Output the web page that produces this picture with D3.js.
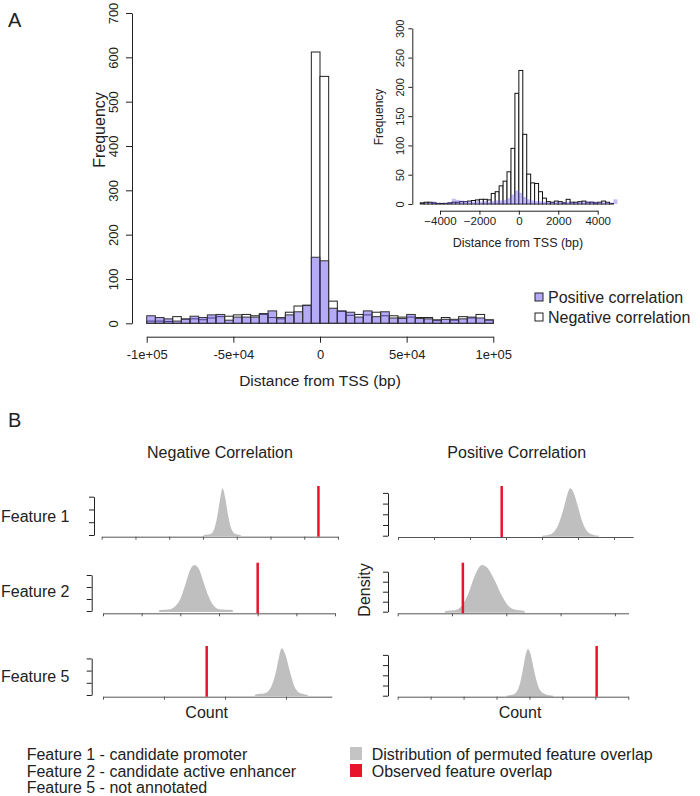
<!DOCTYPE html>
<html>
<head>
<meta charset="utf-8">
<script src="https://cdn.jsdelivr.net/npm/d3@7"></script>
<style>
body { margin: 0; background: #fff; }
svg { display: block; font-family: "Liberation Sans", Arial, Helvetica, sans-serif; }
</style>
</head>
<body>
<svg id="fig" width="700" height="796"></svg>
<script>
// ---- panel A, main histogram (bins of 5000 bp from -1e5) ----
var mainStart = -100000, mainWidth = 5000;
var mainNeg = [5,5,4,15,9,10,8,12,15,16,19,20,17,20,13,10,25,39,41,612,557,50,27,18,20,19,25,17,17,14,14,13,13,6,13,7,15,12,20,7];
var mainPos = [17,13,10,5,10,16,13,19,20,7,14,14,14,22,28,13,19,26,40,149,141,34,28,25,14,28,15,26,12,11,20,11,10,8,9,9,10,14,12,8];
var mainYTicks = [0,100,200,300,400,500,600,700];
var mainXTicks = [-100000,-50000,0,50000,100000];
var mainXLabels = ["-1e+05","-5e+04","0","5e+04","1e+05"];

// ---- panel A, inset (bins of 200 bp from -5000) ----
var insetStart = -5000, insetWidth = 200;
var insetNeg = [2,3,3,2,1,1,1,2,3,3,4,4,5,6,7,8,8,7,18,21,31,39,55,95,189,228,119,51,36,35,21,10,4,3,5,4,2,8,3,3,4,5,3,3,2,3,5,3,1,0];
var insetPos = [0,1,2,4,2,1,2,3,9,7,6,5,5,4,5,4,5,4,5,6,6,7,10,16,23,19,12,8,6,5,5,4,3,3,4,3,3,4,3,3,4,4,4,5,4,3,3,3,2,8];
var insetYTicks = [0,50,100,150,200,250,300];
var insetXTicks = [-4000,-2000,0,2000,4000];

var legendA = ["Positive correlation","Negative correlation"];

// ---- panel B, permutation densities (count in tick units, density in tick units) ----
var colTitles = ["Negative Correlation","Positive Correlation"];
var featureNames = ["Feature 1","Feature 2","Feature 5"];
var densNeg1 = [[3.02,0],[3.15,0.03],[3.25,0.12],[3.33,0.45],[3.42,1.4],[3.5,2.7],[3.58,3.66],[3.66,2.9],[3.74,1.6],[3.82,0.65],[3.9,0.2],[4.0,0.05],[4.12,0]];
var densPos1 = [[4.0,0],[4.15,0.05],[4.3,0.25],[4.45,1.0],[4.58,2.3],[4.7,3.8],[4.78,4.43],[4.88,4.0],[5.0,2.7],[5.12,1.3],[5.25,0.45],[5.4,0.12],[5.58,0]];
var densNeg2 = [[1.45,0],[1.46,0.08],[1.7,0.12],[1.85,0.35],[2.0,1.0],[2.12,2.1],[2.25,3.4],[2.36,3.83],[2.48,3.5],[2.6,2.4],[2.72,1.3],[2.85,0.5],[3.0,0.15],[3.35,0.08],[3.36,0]];
var densPos2 = [[0.87,0],[0.88,0.08],[1.05,0.15],[1.18,0.6],[1.3,1.8],[1.42,3.6],[1.55,4.67],[1.65,4.4],[1.78,3.2],[1.9,1.8],[2.02,0.7],[2.15,0.22],[2.33,0.08],[2.34,0]];
var densNeg5 = [[2.49,0],[2.5,0.05],[2.65,0.15],[2.75,0.6],[2.83,1.8],[2.88,3.0],[2.93,3.83],[2.99,3.3],[3.06,2.0],[3.13,0.8],[3.2,0.25],[3.3,0.07],[3.36,0]];
var densPos5 = [[3.31,0],[3.45,0.06],[3.6,0.35],[3.72,1.3],[3.82,2.9],[3.9,4.2],[3.95,4.58],[4.02,4.2],[4.12,2.8],[4.22,1.4],[4.33,0.5],[4.48,0.15],[4.72,0]];
var observedNeg = [6.42, 4.0, 1.70];
var observedPos = [2.88, 1.2, 6.04];
var featureNotes = ["Feature 1 - candidate promoter","Feature 2 - candidate active enhancer","Feature 5 - not annotated"];
var legendB = ["Distribution of permuted feature overlap","Observed feature overlap"];

var ink = "#222";
var purple = "rgba(105,85,235,0.5)";
var red = "#e8142a";
var svg = d3.select("#fig");

// draw a histogram from counts
function drawBars(g, counts, start, width, x, y, fill, stroke) {
    g.selectAll(null).data(counts).join("rect")
        .attr("x", (d, i) => x(start + i * width))
        .attr("width", (d, i) => x(start + (i + 1) * width) - x(start + i * width))
        .attr("y", d => y(d))
        .attr("height", d => y(0) - y(d))
        .attr("fill", fill)
        .attr("stroke", stroke)
        .attr("stroke-width", stroke == "none" ? 0 : 1);
}

function styleAxis(g) {
    g.selectAll("path, line").attr("stroke", ink);
    g.selectAll("text").attr("fill", ink);
    g.attr("font-family", null);
}

svg.append("text").attr("x", 8).attr("y", 27).attr("font-size", 20).attr("fill", ink).text("A");
svg.append("text").attr("x", 8).attr("y", 427).attr("font-size", 20).attr("fill", ink).text("B");

// main histogram
var xMain = d3.scaleLinear().domain([-100000, 100000]).range([146.7, 493.3]);
var yMain = d3.scaleLinear().domain([0, 700]).range([323.3, 13]);
var gMain = svg.append("g");
drawBars(gMain, mainNeg, mainStart, mainWidth, xMain, yMain, "#fff", "#222");
drawBars(gMain, mainPos, mainStart, mainWidth, xMain, yMain, purple, "#333");

var yAx = svg.append("g").attr("transform", "translate(132,0)")
    .call(d3.axisLeft(yMain).tickValues(mainYTicks).tickSize(6).tickSizeOuter(0));
yAx.selectAll("text").attr("x", 0).attr("dy", 0).attr("font-size", 13)
    .attr("text-anchor", "middle").attr("transform", "translate(-14.3,0) rotate(-90)");
var xAx = svg.append("g").attr("transform", "translate(0,336.7)")
    .call(d3.axisBottom(xMain).tickValues(mainXTicks).tickSize(6).tickSizeOuter(0)
        .tickFormat((d, i) => mainXLabels[i]));
xAx.selectAll("text").attr("y", 22.3).attr("dy", 0).attr("font-size", 13);
styleAxis(yAx); styleAxis(xAx);

svg.append("text").attr("transform", "translate(105,130) rotate(-90)").attr("text-anchor", "middle")
    .attr("font-size", 16).attr("fill", ink).text("Frequency");
svg.append("text").attr("x", 320).attr("y", 386).attr("text-anchor", "middle")
    .attr("font-size", 15.5).attr("fill", ink).text("Distance from TSS (bp)");

// inset histogram
var xIn = d3.scaleLinear().domain([-4000, 4000]).range([440, 597.7]);
var yIn = d3.scaleLinear().domain([0, 300]).range([204, 28.3]);
var gIn = svg.append("g");
drawBars(gIn, insetNeg, insetStart, insetWidth, xIn, yIn, "#fff", "#111");
drawBars(gIn, insetPos, insetStart, insetWidth, xIn, yIn, "rgba(105,85,235,0.38)", "none");

var yAxIn = svg.append("g").attr("transform", "translate(412.3,0)")
    .call(d3.axisLeft(yIn).tickValues(insetYTicks).tickSize(4).tickSizeOuter(0).tickFormat(d3.format("d")));
yAxIn.selectAll("text").attr("x", 0).attr("dy", 0).attr("font-size", 11)
    .attr("text-anchor", "middle").attr("transform", "translate(-8.6,0) rotate(-90)");
var xAxIn = svg.append("g").attr("transform", "translate(0,210.7)")
    .call(d3.axisBottom(xIn).tickValues(insetXTicks).tickSize(4).tickSizeOuter(0).tickFormat(d3.format("d")));
xAxIn.selectAll("text").attr("y", 14.3).attr("dy", 0).attr("font-size", 11.5);
styleAxis(yAxIn); styleAxis(xAxIn);

svg.append("text").attr("transform", "translate(383,117) rotate(-90)").attr("text-anchor", "middle")
    .attr("font-size", 12).attr("fill", ink).text("Frequency");
svg.append("text").attr("x", 518).attr("y", 247).attr("text-anchor", "middle")
    .attr("font-size", 12.5).attr("fill", ink).text("Distance from TSS (bp)");

// legend A
var legA = svg.append("g");
legA.selectAll("rect").data(legendA).join("rect")
    .attr("x", 535).attr("y", (d, i) => 293 + i * 20).attr("width", 8).attr("height", 8)
    .attr("fill", (d, i) => i == 0 ? "#b4aaf5" : "#fff").attr("stroke", ink);
legA.selectAll("text").data(legendA).join("text")
    .attr("x", 548).attr("y", (d, i) => 303 + i * 20).attr("font-size", 16).attr("fill", ink).text(d => d);

// ---- panel B ----
svg.selectAll(".coltitle").data(colTitles).join("text").attr("class", "coltitle")
    .attr("x", (d, i) => [220, 516.7][i]).attr("y", 458).attr("text-anchor", "middle")
    .attr("font-size", 16).attr("fill", ink).text(d => d);

var panels = [
    {dens: densNeg1, obs: observedNeg[0], x0: 101.7, xu: 33.76, xEnd: 7, nXT: 8, y0: 535, yu: 12.77, nYT: 4, axisY: 536.7, top: 486, bx: 94},
    {dens: densPos1, obs: observedPos[0], x0: 398, xu: 36, xEnd: 6.53, nXT: 7, y0: 535.7, yu: 10.7, nYT: 5, axisY: 537, top: 486, bx: 388},
    {dens: densNeg2, obs: observedNeg[1], x0: 103, xu: 38.67, xEnd: 6, nXT: 7, y0: 611, yu: 12, nYT: 4, axisY: 613.3, top: 562.7, bx: 91.7},
    {dens: densPos2, obs: observedPos[1], x0: 397.7, xu: 54.3, xEnd: 4.25, nXT: 5, y0: 611.7, yu: 10, nYT: 5, axisY: 613.3, top: 562.7, bx: 388},
    {dens: densNeg5, obs: observedNeg[2], x0: 103, xu: 61, xEnd: 3.75, nXT: 4, y0: 695, yu: 12.2, nYT: 4, axisY: 696.7, top: 646, bx: 91.7},
    {dens: densPos5, obs: observedPos[2], x0: 397.7, xu: 32.94, xEnd: 7, nXT: 8, y0: 695.7, yu: 10.2, nYT: 5, axisY: 696.7, top: 646, bx: 388}
];

panels.forEach(p => {
    var x = d3.scaleLinear().domain([0, p.xEnd]).range([p.x0, p.x0 + p.xEnd * p.xu]);
    var y = d3.scaleLinear().domain([0, p.nYT - 1]).range([p.y0, p.y0 - (p.nYT - 1) * p.yu]);
    var g = svg.append("g");
    var area = d3.area().x(d => x(d[0])).y0(y(0) + 1).y1(d => y(d[1])).curve(d3.curveMonotoneX);
    g.append("path").datum(p.dens).attr("d", area).attr("fill", "#bfbfbf");

    var ya = g.append("g").attr("transform", "translate(" + p.bx + ",0)")
        .call(d3.axisLeft(y).tickValues(d3.range(p.nYT)).tickFormat("").tickSize(5).tickSizeOuter(0));
    var xa = g.append("g").attr("transform", "translate(0," + p.axisY + ")")
        .call(d3.axisBottom(x).tickValues(d3.range(p.nXT)).tickFormat("").tickSize(3).tickSizeOuter(0));
    styleAxis(ya); styleAxis(xa);
    xa.selectAll("path, line").attr("stroke", "#555");

    g.append("line").attr("x1", x(p.obs)).attr("x2", x(p.obs))
        .attr("y1", p.axisY).attr("y2", p.top)
        .attr("stroke", red).attr("stroke-width", 2.5);
});

svg.selectAll(".feat").data(featureNames).join("text").attr("class", "feat")
    .attr("x", 1).attr("y", (d, i) => [522, 596.5, 682][i])
    .attr("font-size", 16).attr("fill", ink).text(d => d);
svg.append("text").attr("transform", "translate(370,590) rotate(-90)").attr("text-anchor", "middle")
    .attr("font-size", 16).attr("fill", ink).text("Density");
svg.selectAll(".cnt").data(["Count", "Count"]).join("text").attr("class", "cnt")
    .attr("x", (d, i) => [206.7, 520][i]).attr("y", 718).attr("text-anchor", "middle")
    .attr("font-size", 16).attr("fill", ink).text(d => d);

// bottom legends
svg.selectAll(".note").data(featureNotes).join("text").attr("class", "note")
    .attr("x", 26.7).attr("y", (d, i) => 760 + i * 16.5)
    .attr("font-size", 16).attr("fill", ink).text(d => d);
var legB = svg.append("g");
legB.selectAll("rect").data(legendB).join("rect")
    .attr("x", 350).attr("y", (d, i) => 747 + i * 17).attr("width", 12).attr("height", 13)
    .attr("fill", (d, i) => i == 0 ? "#c4c4c4" : red);
legB.selectAll("text").data(legendB).join("text")
    .attr("x", 371.7).attr("y", (d, i) => 759.5 + i * 17)
    .attr("font-size", 16).attr("fill", ink).text(d => d);
</script>
</body>
</html>
